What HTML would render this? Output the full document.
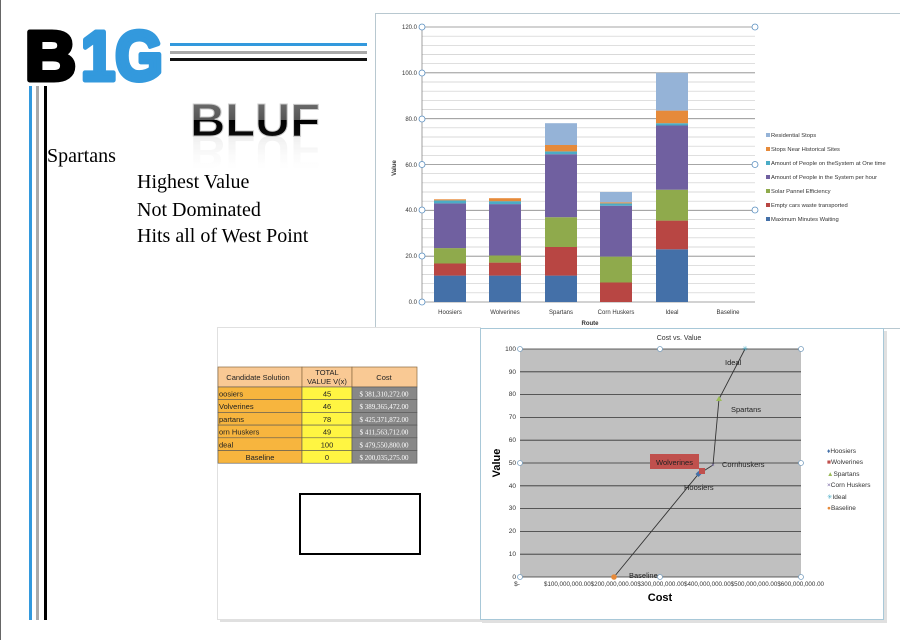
<!DOCTYPE html>
<html><head><meta charset="utf-8"><style>
body{margin:0;width:900px;height:640px;overflow:hidden;background:#fff;font-family:"Liberation Sans",sans-serif}
svg{position:absolute;left:0;top:0}
</style></head><body>
<svg width="900" height="640" viewBox="0 0 900 640" xmlns="http://www.w3.org/2000/svg">
<rect x="0" y="0" width="1" height="640" fill="#666"/>
<!-- logo -->
<text x="25" y="80" font-family="Liberation Sans" font-weight="bold" font-size="70" textLength="51" lengthAdjust="spacingAndGlyphs" fill="#000" stroke="#000" stroke-width="5" stroke-linejoin="round">B</text>
<text x="81" y="80" font-family="Liberation Sans" font-weight="bold" font-size="70" textLength="82" lengthAdjust="spacingAndGlyphs" fill="#3399dd" stroke="#3399dd" stroke-width="5" stroke-linejoin="round">1G</text>
<rect x="170" y="43" width="197" height="3" fill="#3399dd"/>
<rect x="170" y="51" width="197" height="3" fill="#aaa"/>
<rect x="170" y="58" width="197" height="3" fill="#111"/>
<rect x="29" y="86" width="3" height="534" fill="#3399dd"/>
<rect x="36" y="86" width="3" height="534" fill="#aaa"/>
<rect x="44" y="86" width="3" height="534" fill="#000"/>
<!-- BLUF -->
<defs><linearGradient id="bg" x1="0" y1="0" x2="0" y2="1"><stop offset="0" stop-color="#777"/><stop offset="0.5" stop-color="#555"/><stop offset="0.5" stop-color="#000"/><stop offset="1" stop-color="#111"/></linearGradient>
<linearGradient id="rf" x1="0" y1="0" x2="0" y2="1"><stop offset="0" stop-color="#fff" stop-opacity="0"/><stop offset="1" stop-color="#888" stop-opacity="0.6"/></linearGradient></defs>
<text x="190" y="136" font-weight="bold" font-size="46" textLength="130" lengthAdjust="spacingAndGlyphs" fill="url(#bg)" stroke="#ccc" stroke-width="1">BLUF</text>
<g transform="translate(0,272) scale(1,-1)" opacity="0.35"><text x="190" y="136" font-weight="bold" font-size="46" textLength="130" lengthAdjust="spacingAndGlyphs" fill="url(#rf)">BLUF</text></g>
<g font-family="Liberation Serif" font-size="20" fill="#000">
<text x="47" y="162">Spartans</text>
<text x="137" y="188">Highest Value</text>
<text x="137" y="216">Not Dominated</text>
<text x="137" y="242">Hits all of West Point</text>
</g>
<!-- bar chart box -->
<rect x="375.5" y="13.5" width="530" height="315" fill="#fff" stroke="#b8c8d0"/>
<g stroke="#ccc" stroke-width="0.7">
<line x1="422" x2="755" y1="292.8" y2="292.8"/><line x1="422" x2="755" y1="283.7" y2="283.7"/><line x1="422" x2="755" y1="274.5" y2="274.5"/><line x1="422" x2="755" y1="265.3" y2="265.3"/>
<line x1="422" x2="755" y1="247" y2="247"/><line x1="422" x2="755" y1="237.8" y2="237.8"/><line x1="422" x2="755" y1="228.7" y2="228.7"/><line x1="422" x2="755" y1="219.5" y2="219.5"/>
<line x1="422" x2="755" y1="201.2" y2="201.2"/><line x1="422" x2="755" y1="192" y2="192"/><line x1="422" x2="755" y1="182.8" y2="182.8"/><line x1="422" x2="755" y1="173.7" y2="173.7"/>
<line x1="422" x2="755" y1="155.3" y2="155.3"/><line x1="422" x2="755" y1="146.2" y2="146.2"/><line x1="422" x2="755" y1="137" y2="137"/><line x1="422" x2="755" y1="127.8" y2="127.8"/>
<line x1="422" x2="755" y1="109.5" y2="109.5"/><line x1="422" x2="755" y1="100.3" y2="100.3"/><line x1="422" x2="755" y1="91.2" y2="91.2"/><line x1="422" x2="755" y1="82" y2="82"/>
<line x1="422" x2="755" y1="63.7" y2="63.7"/><line x1="422" x2="755" y1="54.5" y2="54.5"/><line x1="422" x2="755" y1="45.3" y2="45.3"/><line x1="422" x2="755" y1="36.2" y2="36.2"/>
</g>
<g stroke="#888" stroke-width="0.8">
<line x1="422" x2="755" y1="302" y2="302"/><line x1="422" x2="755" y1="256.2" y2="256.2"/><line x1="422" x2="755" y1="210.3" y2="210.3"/><line x1="422" x2="755" y1="164.5" y2="164.5"/><line x1="422" x2="755" y1="118.7" y2="118.7"/><line x1="422" x2="755" y1="72.8" y2="72.8"/><line x1="422" x2="755" y1="27" y2="27"/>
<line x1="422" x2="422" y1="27" y2="302"/>
</g>
<g font-size="6" fill="#333" text-anchor="end">
<text x="417" y="304">0.0</text><text x="417" y="258">20.0</text><text x="417" y="212">40.0</text><text x="417" y="167">60.0</text><text x="417" y="121">80.0</text><text x="417" y="75">100.0</text><text x="417" y="29">120.0</text>
</g>
<g fill="#fff" stroke="#5a8fc0" stroke-width="0.8">
<circle cx="422" cy="302" r="3"/><circle cx="422" cy="256" r="3"/><circle cx="422" cy="210" r="3"/><circle cx="422" cy="164.5" r="3"/><circle cx="422" cy="119" r="3"/><circle cx="422" cy="73" r="3"/><circle cx="422" cy="27" r="3"/>
<circle cx="755" cy="27" r="3"/><circle cx="755" cy="164.5" r="3"/><circle cx="755" cy="210" r="3"/>
</g>
<text x="0" y="0" font-size="6" fill="#333" transform="translate(396,168) rotate(-90)" text-anchor="middle" font-weight="bold">Value</text>
<g>
<rect x="434" y="275.6" width="32" height="26.4" fill="#4470a8"/>
<rect x="434" y="263.5" width="32" height="12.1" fill="#b84643"/>
<rect x="434" y="248.1" width="32" height="15.4" fill="#8faa4c"/>
<rect x="434" y="203.4" width="32" height="44.7" fill="#7060a0"/>
<rect x="434" y="200.4" width="32" height="3" fill="#4bacc6"/>
<rect x="434" y="199.3" width="32" height="1.1" fill="#e68a3a"/>
<rect x="489" y="275.6" width="32" height="26.4" fill="#4470a8"/>
<rect x="489" y="262.6" width="32" height="13" fill="#b84643"/>
<rect x="489" y="255.5" width="32" height="7.1" fill="#8faa4c"/>
<rect x="489" y="204.1" width="32" height="51.4" fill="#7060a0"/>
<rect x="489" y="201.2" width="32" height="2.9" fill="#4bacc6"/>
<rect x="489" y="198.2" width="32" height="3" fill="#e68a3a"/>
<rect x="545" y="275.6" width="32" height="26.4" fill="#4470a8"/>
<rect x="545" y="247" width="32" height="28.6" fill="#b84643"/>
<rect x="545" y="217.2" width="32" height="29.8" fill="#8faa4c"/>
<rect x="545" y="154.2" width="32" height="63" fill="#7060a0"/>
<rect x="545" y="151.4" width="32" height="2.8" fill="#4bacc6"/>
<rect x="545" y="145" width="32" height="6.4" fill="#e68a3a"/>
<rect x="545" y="123.2" width="32" height="21.8" fill="#95b3d7"/>
<rect x="600" y="282.5" width="32" height="19.5" fill="#b84643"/>
<rect x="600" y="256.6" width="32" height="25.9" fill="#8faa4c"/>
<rect x="600" y="205.7" width="32" height="50.9" fill="#7060a0"/>
<rect x="600" y="203.4" width="32" height="2.3" fill="#4bacc6"/>
<rect x="600" y="202.3" width="32" height="1.1" fill="#e68a3a"/>
<rect x="600" y="192" width="32" height="10.3" fill="#95b3d7"/>
<rect x="656" y="249.3" width="32" height="52.7" fill="#4470a8"/>
<rect x="656" y="220.6" width="32" height="28.7" fill="#b84643"/>
<rect x="656" y="189.7" width="32" height="30.9" fill="#8faa4c"/>
<rect x="656" y="125.5" width="32" height="64.2" fill="#7060a0"/>
<rect x="656" y="123.2" width="32" height="2.3" fill="#4bacc6"/>
<rect x="656" y="110.6" width="32" height="12.6" fill="#e68a3a"/>
<rect x="656" y="72.8" width="32" height="37.8" fill="#95b3d7"/>
</g>
<g font-size="6" fill="#333" text-anchor="middle">
<text x="450" y="314">Hoosiers</text><text x="505" y="314">Wolverines</text><text x="561" y="314">Spartans</text><text x="616" y="314">Corn Huskers</text><text x="672" y="314">Ideal</text><text x="728" y="314">Baseline</text>
<text x="590" y="325" font-weight="bold">Route</text>
</g>
<g font-size="5.8" fill="#333">
<rect x="766" y="133" width="4" height="4" fill="#95b3d7"/><text x="771" y="137">Residential Stops</text>
<rect x="766" y="147" width="4" height="4" fill="#e68a3a"/><text x="771" y="151">Stops Near Historical Sites</text>
<rect x="766" y="161" width="4" height="4" fill="#4bacc6"/><text x="771" y="165">Amount of People on theSystem at One time</text>
<rect x="766" y="175" width="4" height="4" fill="#7060a0"/><text x="771" y="179">Amount of People in the System per hour</text>
<rect x="766" y="189" width="4" height="4" fill="#8faa4c"/><text x="771" y="193">Solar Pannel Efficiency</text>
<rect x="766" y="203" width="4" height="4" fill="#b84643"/><text x="771" y="207">Empty cars waste transported</text>
<rect x="766" y="217" width="4" height="4" fill="#4470a8"/><text x="771" y="221">Maximum Minutes Waiting</text>
</g>
<!-- table panel -->
<rect x="220" y="330" width="262" height="292" fill="#ccc" opacity="0.6"/>
<rect x="217.5" y="327.5" width="263" height="292" fill="#fff" stroke="#e0e0e0"/>
<g font-size="7.5" fill="#222">
<rect x="218" y="367" width="84" height="20" fill="#f9c994" stroke="#8a6a40" stroke-width="0.7"/>
<rect x="302" y="367" width="50" height="20" fill="#f9c994" stroke="#8a6a40" stroke-width="0.7"/>
<rect x="352" y="367" width="65" height="20" fill="#f9c994" stroke="#8a6a40" stroke-width="0.7"/>
<text x="258" y="380" text-anchor="middle">Candidate Solution</text>
<text x="327" y="375" text-anchor="middle">TOTAL</text><text x="327" y="384" text-anchor="middle">VALUE V(x)</text>
<text x="384" y="380" text-anchor="middle">Cost</text>
</g>
<g font-size="7.5" fill="#222">
<g transform="translate(0,387)"><rect x="218" width="84" height="12.7" fill="#f7b53e" stroke="#555" stroke-width="0.6"/><rect x="302" width="50" height="12.7" fill="#fff542" stroke="#555" stroke-width="0.6"/><rect x="352" width="65" height="12.7" fill="#888" stroke="#555" stroke-width="0.6"/><text x="219" y="9.5">oosiers</text><text x="327" y="9.5" text-anchor="middle">45</text><text x="384" y="9.5" text-anchor="middle" fill="#fff" font-family="Liberation Serif" font-size="7">$ 381,310,272.00</text></g>
<g transform="translate(0,399.7)"><rect x="218" width="84" height="12.7" fill="#f7b53e" stroke="#555" stroke-width="0.6"/><rect x="302" width="50" height="12.7" fill="#fff542" stroke="#555" stroke-width="0.6"/><rect x="352" width="65" height="12.7" fill="#888" stroke="#555" stroke-width="0.6"/><text x="219" y="9.5">Volverines</text><text x="327" y="9.5" text-anchor="middle">46</text><text x="384" y="9.5" text-anchor="middle" fill="#fff" font-family="Liberation Serif" font-size="7">$ 389,365,472.00</text></g>
<g transform="translate(0,412.4)"><rect x="218" width="84" height="12.7" fill="#f7b53e" stroke="#555" stroke-width="0.6"/><rect x="302" width="50" height="12.7" fill="#fff542" stroke="#555" stroke-width="0.6"/><rect x="352" width="65" height="12.7" fill="#888" stroke="#555" stroke-width="0.6"/><text x="219" y="9.5">partans</text><text x="327" y="9.5" text-anchor="middle">78</text><text x="384" y="9.5" text-anchor="middle" fill="#fff" font-family="Liberation Serif" font-size="7">$ 425,371,872.00</text></g>
<g transform="translate(0,425.1)"><rect x="218" width="84" height="12.7" fill="#f7b53e" stroke="#555" stroke-width="0.6"/><rect x="302" width="50" height="12.7" fill="#fff542" stroke="#555" stroke-width="0.6"/><rect x="352" width="65" height="12.7" fill="#888" stroke="#555" stroke-width="0.6"/><text x="219" y="9.5">orn Huskers</text><text x="327" y="9.5" text-anchor="middle">49</text><text x="384" y="9.5" text-anchor="middle" fill="#fff" font-family="Liberation Serif" font-size="7">$ 411,563,712.00</text></g>
<g transform="translate(0,437.8)"><rect x="218" width="84" height="12.7" fill="#f7b53e" stroke="#555" stroke-width="0.6"/><rect x="302" width="50" height="12.7" fill="#fff542" stroke="#555" stroke-width="0.6"/><rect x="352" width="65" height="12.7" fill="#888" stroke="#555" stroke-width="0.6"/><text x="219" y="9.5">deal</text><text x="327" y="9.5" text-anchor="middle">100</text><text x="384" y="9.5" text-anchor="middle" fill="#fff" font-family="Liberation Serif" font-size="7">$ 479,550,800.00</text></g>
<g transform="translate(0,450.5)"><rect x="218" width="84" height="12.7" fill="#f7b53e" stroke="#555" stroke-width="0.6"/><rect x="302" width="50" height="12.7" fill="#fff542" stroke="#555" stroke-width="0.6"/><rect x="352" width="65" height="12.7" fill="#888" stroke="#555" stroke-width="0.6"/><text x="260" y="9.5" text-anchor="middle">Baseline</text><text x="327" y="9.5" text-anchor="middle">0</text><text x="384" y="9.5" text-anchor="middle" fill="#fff" font-family="Liberation Serif" font-size="7">$ 200,035,275.00</text></g>
</g>
<rect x="300" y="494" width="120" height="60" fill="none" stroke="#000" stroke-width="2"/>
<!-- scatter panel -->
<rect x="482" y="331" width="405" height="292" fill="#ccc" opacity="0.6"/>
<rect x="480.5" y="328.5" width="403" height="291" fill="#fff" stroke="#a8c8d8"/>
<text x="679" y="340" font-size="7" text-anchor="middle" fill="#333">Cost vs. Value</text>
<rect x="520" y="349" width="281" height="228" fill="#c0c0c0"/>
<g stroke="#333" stroke-width="0.8">
<line x1="520" x2="801" y1="349" y2="349"/><line x1="520" x2="801" y1="371.8" y2="371.8"/><line x1="520" x2="801" y1="394.6" y2="394.6"/><line x1="520" x2="801" y1="417.4" y2="417.4"/><line x1="520" x2="801" y1="440.2" y2="440.2"/><line x1="520" x2="801" y1="463" y2="463"/><line x1="520" x2="801" y1="485.8" y2="485.8"/><line x1="520" x2="801" y1="508.6" y2="508.6"/><line x1="520" x2="801" y1="531.4" y2="531.4"/><line x1="520" x2="801" y1="554.2" y2="554.2"/><line x1="520" x2="801" y1="577" y2="577"/>
</g>
<g font-size="6.5" fill="#333" text-anchor="end">
<text x="516" y="579">0</text><text x="516" y="556">10</text><text x="516" y="533">20</text><text x="516" y="510">30</text><text x="516" y="488">40</text><text x="516" y="465">50</text><text x="516" y="442">60</text><text x="516" y="419">70</text><text x="516" y="396">80</text><text x="516" y="374">90</text><text x="516" y="351">100</text>
</g>
<text x="517" y="586" font-size="6.5" fill="#333" text-anchor="middle">$-</text>
<text x="544" y="586" font-size="6.5" fill="#333" textLength="280" lengthAdjust="spacingAndGlyphs">$100,000,000.00$200,000,000.00$300,000,000.00$400,000,000.00$500,000,000.00$600,000,000.00</text>
<text x="660" y="601" font-size="11" font-weight="bold" text-anchor="middle">Cost</text>
<text transform="translate(500,463) rotate(-90)" font-size="11" font-weight="bold" text-anchor="middle">Value</text>
<polyline points="614,577 698.5,474 702,472 713,465 719,399 745,349" fill="none" stroke="#333" stroke-width="0.9"/>
<rect x="650" y="454" width="49" height="15" fill="#c0504d"/>
<g font-size="7.5" fill="#222">
<text x="656" y="465">Wolverines</text>
<text x="725" y="365">Ideal</text>
<text x="731" y="412">Spartans</text>
<text x="722" y="467">Cornhuskers</text>
<text x="684" y="490">Hoosiers</text>
<text x="629" y="578">Baseline</text>
</g>
<path d="M698.5 471 l3 3 -3 3 -3 -3z" fill="#4470a8"/>
<rect x="699" y="468" width="6" height="6" fill="#c0504d"/>
<path d="M719 396 l3 5 h-6z" fill="#9bbb59"/>
<text x="713" y="467" font-size="6" fill="#7060a0" text-anchor="middle">×</text>
<text x="745" y="351" font-size="7" fill="#4bacc6" text-anchor="middle">✳</text>
<circle cx="614" cy="577" r="2.8" fill="#e68a3a"/>
<g fill="#fff" stroke="#7aa0c0" stroke-width="0.8">
<circle cx="520" cy="349" r="2.5"/><circle cx="660" cy="349" r="2.5"/><circle cx="801" cy="349" r="2.5"/><circle cx="520" cy="463" r="2.5"/><circle cx="801" cy="463" r="2.5"/><circle cx="520" cy="577" r="2.5"/><circle cx="660" cy="577" r="2.5"/><circle cx="801" cy="577" r="2.5"/>
</g>
<g font-size="6.5" fill="#333">
<text x="827" y="453"><tspan fill="#4470a8">♦</tspan>Hoosiers</text>
<text x="827" y="464"><tspan fill="#c0504d">■</tspan>Wolverines</text>
<text x="827" y="476"><tspan fill="#9bbb59">▲</tspan>Spartans</text>
<text x="827" y="487"><tspan fill="#7060a0">×</tspan>Corn Huskers</text>
<text x="827" y="499"><tspan fill="#4bacc6">✳</tspan>Ideal</text>
<text x="827" y="510"><tspan fill="#e68a3a">●</tspan>Baseline</text>
</g>
</svg>
</body></html>
